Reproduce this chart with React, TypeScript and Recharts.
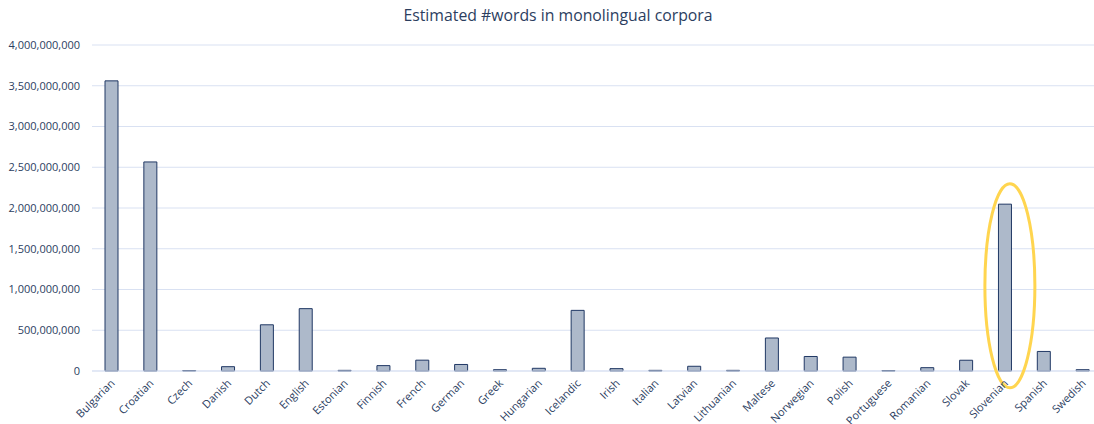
import { BarChart, Bar, XAxis, YAxis, CartesianGrid, ReferenceDot } from "recharts";

const LANGUAGES = [
	"Bulgarian", "Croatian", "Czech", "Danish", "Dutch", "English", "Estonian",
	"Finnish", "French", "German", "Greek", "Hungarian", "Icelandic", "Irish",
	"Italian", "Latvian", "Lithuanian", "Maltese", "Norwegian", "Polish",
	"Portuguese", "Romanian", "Slovak", "Slovenian", "Spanish", "Swedish",
];

const WORDS = [
	3560000000, 2565000000, 6000000, 53000000, 567000000, 765000000, 8000000,
	66000000, 133000000, 80000000, 16000000, 33000000, 744000000, 29000000,
	8000000, 58000000, 8000000, 405000000, 178000000, 170000000, 5000000,
	41000000, 132000000, 2047000000, 240000000, 16000000,
];

const Y_TICKS = [0, 500000000, 1000000000, 1500000000, 2000000000, 2500000000, 3000000000, 3500000000, 4000000000];

const HIGHLIGHT = "Slovenian";
const HIGHLIGHT_MID = 1045000000;

const TEXT = "#2c3e5f";
const FONT = "'Open Sans', sans-serif";

const data = LANGUAGES.map((lang, i) => ({ lang, words: WORDS[i] }));

const fmt = (v: number) => v.toLocaleString("en-US");

function AngledTick({ x, y, payload }: any) {
	return (
		<text
			x={x + 4}
			y={y + 5}
			textAnchor="end"
			fontSize={11}
			fill={TEXT}
			fontFamily={FONT}
			transform={`rotate(-45 ${x + 4} ${y + 5})`}
		>
			{payload.value}
		</text>
	);
}

function Ellipse({ cx, cy }: any) {
	return <ellipse cx={cx + 5} cy={cy} rx={25} ry={102} fill="none" stroke="#ffd54f" strokeWidth={3} />;
}

export default function App() {
	return (
		<div style={{ position: "fixed", left: 0, top: 0, width: 1094, height: 424, overflow: "hidden", background: "#fff" }}>
			<div
				style={{
					position: "absolute",
					top: 4,
					left: 0,
					width: 1116,
					textAlign: "center",
					fontFamily: FONT,
					fontSize: 15.8,
					color: TEXT,
				}}
			>
				Estimated #words in monolingual corpora
			</div>
			<BarChart
				width={1102}
				height={424}
				data={data}
				margin={{ top: 45, right: 0, left: 0, bottom: 0 }}
				barSize={13}
			>
				<CartesianGrid vertical={false} stroke="#d9e1f2" />
				<XAxis
					dataKey="lang"
					interval={0}
					height={53}
					tickLine={false}
					axisLine={{ stroke: "#d9e1f2" }}
					tick={<AngledTick />}
				/>
				<YAxis
					width={92}
					domain={[0, 4000000000]}
					ticks={Y_TICKS}
					tickFormatter={fmt}
					tickLine={false}
					axisLine={false}
					tickMargin={6}
					tick={{ fontSize: 11, fill: TEXT, fontFamily: FONT }}
				/>
				<Bar dataKey="words" fill="#adb9ca" stroke="#203864" strokeWidth={1} isAnimationActive={false} />
				<ReferenceDot x={HIGHLIGHT} y={HIGHLIGHT_MID} shape={<Ellipse />} ifOverflow="visible" />
			</BarChart>
		</div>
	);
}
